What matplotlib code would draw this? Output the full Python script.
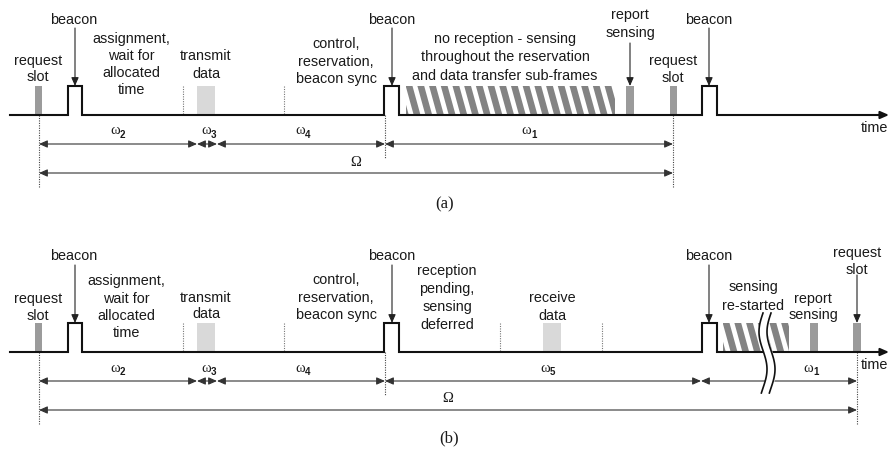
import matplotlib
matplotlib.use("Agg")
import matplotlib.pyplot as plt
import numpy as np
from matplotlib.patches import Rectangle, Polygon

SANS = "Liberation Sans"
SERIF = "Liberation Serif"
INK = "#1a1a1a"
FS = 10.4

# baseline y of each panel (drawing units = pixels, y grows downward)
panel_base = {"a": 115, "b": 352}
caption_y = {"a": 204, "b": 438}

# beacon pulses [start, end]
beacons = [(68, 82), (384, 399), (702, 717)]

# solid slots: (panel, start, end, shade)
slots = [
    ("a", 35, 42, "dark"), ("a", 197, 215, "light"), ("a", 626, 634, "dark"), ("a", 670, 677, "dark"),
    ("b", 35, 42, "dark"), ("b", 197, 215, "light"), ("b", 543, 561, "light"),
    ("b", 810, 818, "dark"), ("b", 853, 861, "dark"),
]
# sensing (hatched) periods
sensing = [("a", 406, 615), ("b", 723, 789)]

# short dotted sub-frame markers
frame_marks = {"a": [183, 284], "b": [183, 284, 500, 602]}
# dotted reference lines: (x, depth below baseline)
ref_lines = {"a": [(39, 72), (385, 43), (673, 72)], "b": [(39, 72), (385, 43), (857, 72)]}

# interval arrows: (start, end, index, label x)
intervals = {
    "a": [(39, 197, "2", 117), (197, 217, "3", 208), (217, 385, "4", 302), (385, 673, "1", 528)],
    "b": [(39, 197, "2", 117), (197, 217, "3", 208), (217, 385, "4", 302),
          (385, 701, "5", 547), (701, 857, "1", 810)],
}
frame_span = {"a": (39, 673, 356), "b": (39, 857, 448)}

# text labels: (panel, x, first line y, line gap, text)
labels = [
    ("a", 38, 59, 16.5, "request\nslot"),
    ("a", 74, 18, 17, "beacon"),
    ("a", 131, 37, 17.3, "assignment,\nwait for\nallocated\ntime"),
    ("a", 206, 55, 17.5, "transmit\ndata"),
    ("a", 336, 43, 17, "control,\nreservation,\nbeacon sync"),
    ("a", 392, 18, 17, "beacon"),
    ("a", 505, 38, 18, "no reception - sensing\nthroughout the reservation\nand data transfer sub-frames"),
    ("a", 630, 13, 18.5, "report\nsensing"),
    ("a", 673, 59, 17, "request\nslot"),
    ("a", 709, 18, 17, "beacon"),
    ("b", 38, 297, 17, "request\nslot"),
    ("b", 74, 254, 17, "beacon"),
    ("b", 126, 280, 17.3, "assignment,\nwait for\nallocated\ntime"),
    ("b", 206, 296, 17, "transmit\ndata"),
    ("b", 336, 279, 17, "control,\nreservation,\nbeacon sync"),
    ("b", 392, 254, 17, "beacon"),
    ("b", 447, 270, 17.7, "reception\npending,\nsensing\ndeferred"),
    ("b", 552, 297, 17, "receive\ndata"),
    ("b", 709, 254, 17, "beacon"),
    ("b", 753, 286, 18, "sensing\nre-started"),
    ("b", 813, 297, 17, "report\nsensing"),
    ("b", 857, 252, 17, "request\nslot"),
]
# pointer arrows from a label down to its mark: (panel, x, y from)
pointers = [
    ("a", 75, 28), ("a", 392, 28), ("a", 709, 28), ("a", 630, 43),
    ("b", 75, 265), ("b", 392, 265), ("b", 709, 265), ("b", 857, 275),
]

PULSE_H = 29
shade = {"dark": "#9b9b9b", "light": "#d9d9d9"}

fig = plt.figure(figsize=(8.89, 4.49), dpi=100)
ax = fig.add_axes([0, 0, 1, 1])
ax.set_xlim(0, 889)
ax.set_ylim(449, 0)
ax.axis("off")


def arrow(x0, y0, x1, y1, style="-|>", lw=0.8, color="#333333", z=3):
    ax.annotate("", xy=(x1, y1), xytext=(x0, y0),
                arrowprops=dict(arrowstyle=style + ",head_length=0.5,head_width=0.22",
                                mutation_scale=10, lw=lw, color=color,
                                shrinkA=0, shrinkB=0), zorder=z)


for p, yb in panel_base.items():
    top = yb - PULSE_H

    # baseline with beacon pulses
    xs, ys = [10], [yb]
    for s, e in beacons:
        xs += [s, s, e, e]
        ys += [yb, top, top, yb]
    xs.append(880)
    ys.append(yb)
    ax.plot(xs, ys, color="#111111", lw=1.5, solid_joinstyle="miter", zorder=5)
    arrow(879, yb, 889, yb, lw=1.5, color="#111111", z=5)
    ax.text(888, yb + 13, "time", ha="right", va="center", fontsize=FS,
            family=SANS, color=INK)

    for sp, s, e, sh in slots:
        if sp == p:
            ax.add_patch(Rectangle((s, top), e - s, PULSE_H, facecolor=shade[sh],
                                   edgecolor="none", zorder=2))

    for sp, s, e in sensing:
        if sp != p:
            continue
        clip = Rectangle((s, top), e - s, PULSE_H, transform=ax.transData)
        period, width, lean = 11.7, 6.8, 8
        x = s - 4 - lean
        while x < e:
            stripe = Polygon([(x, top), (x + width, top), (x + width + lean, yb), (x + lean, yb)],
                             closed=True, facecolor="#838383", edgecolor="none", zorder=2)
            ax.add_patch(stripe)
            stripe.set_clip_path(clip)
            x += period

    for x in frame_marks[p]:
        ax.plot([x, x], [top, yb], color="#777777", lw=0.8, ls=(0, (1, 1.2)), zorder=1)
    for x, depth in ref_lines[p]:
        ax.plot([x, x], [yb, yb + depth], color="#444444", lw=0.8, ls=(0, (1, 1.2)), zorder=1)

    # omega intervals
    for s, e, idx, lx in intervals[p]:
        arrow(s, yb + 29, e, yb + 29, style="<|-|>")
        ax.text(lx + 3, yb + 16, "\u03c9", ha="right", va="center", fontsize=10.5,
                family=SERIF, color=INK)
        ax.text(lx + 3, yb + 20, idx, ha="left", va="center", fontsize=7,
                family=SANS, weight="bold", color=INK)

    s, e, lx = frame_span[p]
    arrow(s, yb + 58, e, yb + 58, style="<|-|>")
    ax.text(lx, yb + 47, "\u03a9", ha="center", va="center", fontsize=10.5,
            family=SERIF, color=INK)

    ax.text(445 if p == "a" else 449, caption_y[p], f"({p})", ha="center", va="center",
            fontsize=12, family=SERIF, color=INK)

for p, x, y0, gap, txt in labels:
    for i, line in enumerate(txt.split("\n")):
        ax.text(x, y0 + i * gap + 1.5, line, ha="center", va="center", fontsize=FS,
                family=SANS, color=INK)

for p, x, y0 in pointers:
    arrow(x, y0, x, panel_base[p] - PULSE_H, lw=0.8, color="#222222")

# break mark across the sensing period in (b)
yb = panel_base["b"]
yy = np.linspace(yb - 39, yb + 41, 120)
wave = -4 * np.sin(2 * np.pi * (yy - yy[0]) / 75)
left, right = 763 + wave, 771 + wave
ax.fill_betweenx(yy, left, right, color="white", zorder=6)
ax.plot(left, yy, color="#111111", lw=1.2, zorder=7)
ax.plot(right, yy, color="#111111", lw=1.2, zorder=7)

fig.savefig("out.png", dpi=100)
